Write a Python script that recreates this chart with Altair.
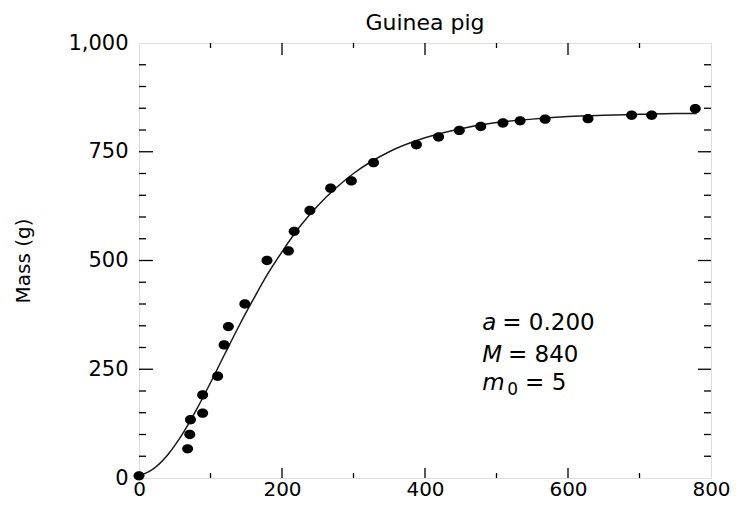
import altair as alt
import pandas as pd

# Observed data (age in days, mass in g)
obs_t = [0, 68, 71, 72, 89, 89, 110, 119, 125, 148, 179, 209, 217, 239, 268, 297,
         328, 388, 419, 448, 478, 509, 533, 568, 628, 689, 717, 778]
obs_m = [5, 67, 100, 134, 191, 149, 234, 306, 348, 400, 500, 522, 567, 615, 666, 683,
         725, 766, 784, 799, 808, 816, 821, 825, 826, 834, 834, 849]

# Fitted curve
curve_t = [0, 20, 40, 60, 80, 100, 120, 140, 160, 180, 200, 225, 250, 275, 300, 350,
           400, 450, 500, 550, 600, 650, 700, 750, 780]
curve_m = [5, 21, 53, 99, 156, 219, 285, 350, 411, 469, 520, 578, 626, 666, 700, 750,
           782, 803, 817, 825, 831, 834, 836, 838, 838]

x_ticks_major = [200, 400, 600]
x_ticks_minor = [100, 300, 500, 700]
y_ticks_major = [250, 500, 750]
y_ticks_minor = [50, 100, 150, 200, 300, 350, 400, 450, 550, 600, 650, 700, 800, 850, 900, 950]

ann_var = ["a", "M", "m"]
ann_var_x = [480, 480, 480]
ann_rest = ["= 0.200", "= 840", "= 5"]
ann_rest_x = [508, 516, 540]
ann_y = [356, 283, 218]
sub_text = ["0"]
sub_x = [515]
sub_y = [202]

W, H = 572, 435
FONT = "DejaVu Sans"

obs = pd.DataFrame({"t": obs_t, "m": obs_m})
curve = pd.DataFrame({"t": curve_t, "m": curve_m})

xs = alt.Scale(domain=[0, 800], nice=False, zero=False)
ys = alt.Scale(domain=[0, 1000], nice=False, zero=False)

line = alt.Chart(curve).mark_line(color="#1a1a1a", strokeWidth=1.5, interpolate="monotone").encode(
    x=alt.X("t:Q", scale=xs,
            axis=alt.Axis(values=[0, 200, 400, 600, 800], title=None, ticks=False, tickSize=0,
                          domain=False, grid=False, labelFontSize=20, labelFont=FONT,
                          labelColor="black", labelPadding=1, labelFlush=False)),
    y=alt.Y("m:Q", scale=ys,
            axis=alt.Axis(values=[0, 250, 500, 750, 1000], format=",.0f", title="Mass (g)",
                          ticks=False, tickSize=0, domain=False, grid=False,
                          labelFontSize=21, labelFont=FONT, labelColor="black",
                          labelPadding=11, titleFont=FONT, titleFontSize=20,
                          titleFontWeight="normal", titleColor="black", titlePadding=34)),
)

ellipse = "M-1,0A1,0.85,0,1,0,1,0A1,0.85,0,1,0,-1,0Z"
points = alt.Chart(obs).mark_point(shape=ellipse, filled=True, color="black", opacity=1,
                                   size=121).encode(x="t:Q", y="m:Q")

def tick_layer(vals, orient, length):
    df = pd.DataFrame({"v": vals})
    base = alt.Chart(df).mark_rule(color="black", strokeWidth=1.3)
    if orient == "bottom":
        return base.encode(x="v:Q", y=alt.value(H), y2=alt.value(H - length))
    if orient == "top":
        return base.encode(x="v:Q", y=alt.value(0), y2=alt.value(length))
    if orient == "left":
        return base.encode(y="v:Q", x=alt.value(0), x2=alt.value(length))
    return base.encode(y="v:Q", x=alt.value(W), x2=alt.value(W - length))

ticks = [
    tick_layer(x_ticks_major, "bottom", 10), tick_layer(x_ticks_minor, "bottom", 5),
    tick_layer(x_ticks_major, "top", 12), tick_layer(x_ticks_minor, "top", 5),
    tick_layer(y_ticks_major, "left", 14), tick_layer(y_ticks_minor, "left", 7),
    tick_layer(y_ticks_major, "right", 13), tick_layer(y_ticks_minor, "right", 7),
]

var_df = pd.DataFrame({"x": ann_var_x, "y": ann_y, "text": ann_var})
rest_df = pd.DataFrame({"x": ann_rest_x, "y": ann_y, "text": ann_rest})
sub_df = pd.DataFrame({"x": sub_x, "y": sub_y, "text": sub_text})

var_text = alt.Chart(var_df).mark_text(align="left", baseline="middle", font=FONT,
                                       fontSize=23, fontStyle="italic", color="black").encode(
    x="x:Q", y="y:Q", text="text:N")
rest_text = alt.Chart(rest_df).mark_text(align="left", baseline="middle", font=FONT,
                                         fontSize=23, color="black").encode(
    x="x:Q", y="y:Q", text="text:N")
sub_t = alt.Chart(sub_df).mark_text(align="left", baseline="middle", font=FONT,
                                    fontSize=17, color="black").encode(
    x="x:Q", y="y:Q", text="text:N")

chart = alt.layer(line, points, *ticks, var_text, rest_text, sub_t).properties(
    width=W, height=H,
    title=alt.TitleParams("Guinea pig", font=FONT, fontSize=22, fontWeight="normal",
                          color="black", anchor="middle", offset=12, dy=15),
    autosize=alt.AutoSizeParams(type="none"),
    padding={"left": 131, "top": 35, "right": 22, "bottom": 22},
).configure_view(stroke="black", strokeWidth=1.5).configure(background="white")

chart.save("out.html", embed_options={"renderer": "svg", "actions": False})
